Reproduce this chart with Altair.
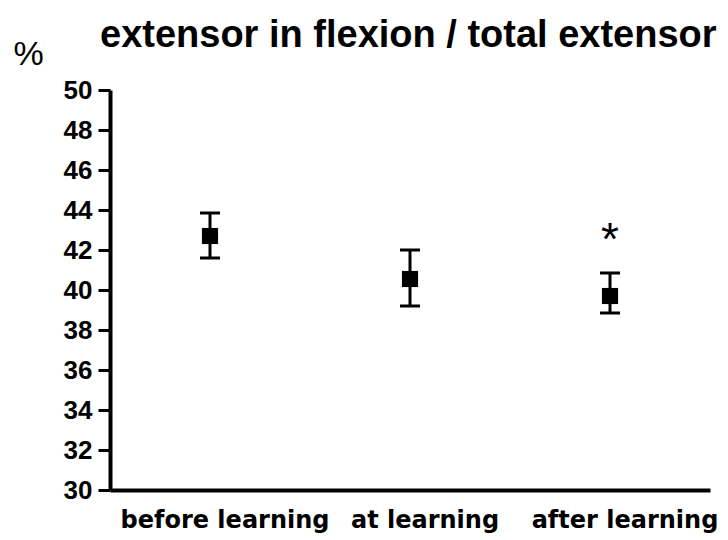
import altair as alt
import pandas as pd

# Group means with the lower/upper ends of their error bars (%)
categories = ["before learning", "at learning", "after learning"]
means = [42.7, 40.55, 39.7]
lower = [41.6, 39.2, 38.85]
upper = [43.85, 42.0, 40.85]

# Significance marker
star_category = ["after learning"]
star_value = [42.85]

df = pd.DataFrame({"group": categories, "mean": means, "lo": lower, "hi": upper})
stars = pd.DataFrame({"group": star_category, "y": star_value, "label": ["*"]})

x_axis = alt.Axis(
    title=None,
    labelAngle=0,
    labelFont="DejaVu Sans",
    labelFontWeight="bold",
    labelFontSize=24,
    labelColor="black",
    labelPadding=18,
    labelOffset=15,
    labelLimit=0,
    labelOverlap=False,
    ticks=False,
    domainColor="black",
    domainWidth=4,
)
x_scale = alt.Scale(paddingInner=0, paddingOuter=0)

y_scale = alt.Scale(domain=[30, 50], nice=False, zero=False)

y_axis = alt.Axis(
    title="%",
    titleAngle=0,
    titleAlign="left",
    titleBaseline="alphabetic",
    titleX=-97,
    titleY=-26,
    titleFont="Liberation Sans",
    titleFontSize=34,
    titleFontWeight="normal",
    titleColor="black",
    values=list(range(30, 51, 2)),
    labelOverlap=False,
    labelFont="Liberation Sans",
    labelFontWeight="bold",
    labelFontSize=26,
    labelColor="black",
    labelPadding=6,
    tickSize=12,
    tickWidth=3,
    tickColor="black",
    domainColor="black",
    domainWidth=4,
    grid=False,
)


def xy(field, source_sort=categories):
    return dict(
        x=alt.X("group:N", sort=source_sort, scale=x_scale, axis=x_axis),
        y=alt.Y(field, scale=y_scale, axis=y_axis),
    )


base = alt.Chart(df)

bars = base.mark_rule(color="black", strokeWidth=3).encode(**xy("lo:Q"), y2="hi:Q")
cap_lo = base.mark_tick(
    color="black", thickness=3, size=20, orient="horizontal", opacity=1
).encode(**xy("lo:Q"))
cap_hi = base.mark_tick(
    color="black", thickness=3, size=20, orient="horizontal", opacity=1
).encode(**xy("hi:Q"))
points = base.mark_square(color="black", size=260, opacity=1, filled=True).encode(
    **xy("mean:Q")
)
star = alt.Chart(stars).mark_text(
    font="Liberation Sans", fontSize=46, color="black", baseline="middle", dy=8
).encode(**xy("y:Q"), text="label:N")

chart = (
    alt.layer(bars, cap_lo, cap_hi, points, star)
    .properties(
        width=600,
        height=400,
        background="white",
        autosize=alt.AutoSizeParams(type="none"),
        padding={"left": 110, "top": 90, "right": 18, "bottom": 50},
        title=alt.TitleParams(
            "extensor in flexion / total extensor",
            anchor="start",
            frame="group",
            baseline="alphabetic",
            dx=-10,
            offset=-48,
            font="Liberation Sans",
            fontSize=38,
            fontWeight="bold",
            color="black",
        ),
    )
    .configure_view(stroke=None)
)

chart.save("out.html", embed_options={"renderer": "svg", "actions": False})
